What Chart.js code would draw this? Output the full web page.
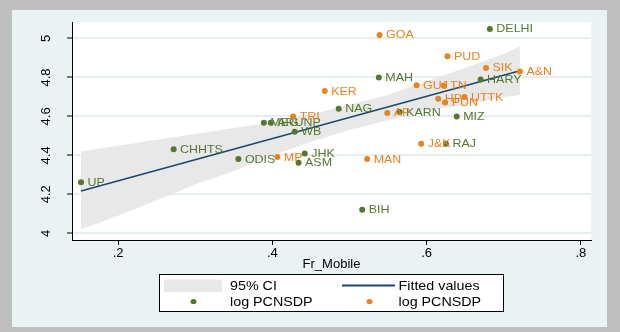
<!DOCTYPE html>
<html>
<head>
<meta charset="utf-8">
<script src="https://cdn.jsdelivr.net/npm/chart.js@4.4.1/dist/chart.umd.min.js"></script>
<style>
  html, body { margin: 0; padding: 0; background: #bfbfbf; }
  #wrap { width: 620px; height: 332px; }
</style>
</head>
<body>
<div id="wrap"><canvas id="chart" width="620" height="332"></canvas></div>
<script>
// green series (log PCNSDP)
const greenNames = ['DELHI', 'MAH', 'HARY', 'NAG', 'KARN', 'MIZ', 'MEG', 'ARUNP', 'WB', 'CHHTS', 'UP', 'ODIS', 'JHK', 'ASM', 'RAJ', 'BIH'];
const greenX = [0.682, 0.538, 0.670, 0.486, 0.565, 0.639, 0.389, 0.398, 0.429, 0.272, 0.152, 0.356, 0.442, 0.434, 0.625, 0.5165];
const greenY = [5.049, 4.800, 4.790, 4.639, 4.622, 4.600, 4.568, 4.568, 4.521, 4.431, 4.262, 4.381, 4.410, 4.362, 4.460, 4.121];

// orange series (log PCNSDP)
const orangeNames = ['GOA', 'PUD', 'SIK', 'A&N', 'GUJ', 'TN', 'HP', 'UTTK', 'PUN', 'KER', 'AP', 'TRI', 'MP', 'J&K', 'MAN'];
const orangeX = [0.539, 0.627, 0.677, 0.721, 0.587, 0.622, 0.615, 0.649, 0.624, 0.468, 0.549, 0.427, 0.4065, 0.593, 0.523];
const orangeY = [5.018, 4.909, 4.849, 4.831, 4.760, 4.759, 4.690, 4.699, 4.672, 4.730, 4.618, 4.600, 4.391, 4.460, 4.381];

// fitted line and 95% CI band
const fitX = [0.152, 0.721];
const fitY = [4.217, 4.834];
const ciX = [0.152, 0.20, 0.25, 0.30, 0.35, 0.40, 0.45, 0.50, 0.55, 0.60, 0.65, 0.70, 0.721];
const ciUpper = [4.42, 4.45, 4.48, 4.51, 4.54, 4.57, 4.61, 4.66, 4.71, 4.78, 4.85, 4.92, 4.96];
const ciLower = [4.02, 4.09, 4.17, 4.25, 4.32, 4.40, 4.47, 4.53, 4.58, 4.63, 4.66, 4.70, 4.71];

const xTicks = [0.2, 0.4, 0.6, 0.8];
const yTicks = [4, 4.2, 4.4, 4.6, 4.8, 5];

const GREEN = '#55772f';
const ORANGE = '#e9831f';
const NAVY = '#1a476f';
const BAND = '#e8e8e8';
const FONT = "'Liberation Sans', Arial, sans-serif";

Chart.defaults.font.family = FONT;

function pairs(xs, ys) {
    return xs.map(function (x, i) { return { x: x, y: ys[i] }; });
}

function stretchText(ctx, text, x, y, sx) {
    ctx.save();
    ctx.translate(x, y);
    ctx.scale(sx, 1);
    ctx.fillText(text, 0, 0);
    ctx.restore();
}

// grey frame, light panel, white plot region
const backgroundPlugin = {
    id: 'stataBackground',
    beforeDraw: function (chart) {
        const ctx = chart.ctx;
        const a = chart.chartArea;
        ctx.save();
        ctx.fillStyle = '#bfbfbf';
        ctx.fillRect(0, 0, chart.width, chart.height);
        ctx.fillStyle = '#eaf2f3';
        ctx.fillRect(12, 10, 595, 317);
        ctx.fillStyle = '#ffffff';
        ctx.fillRect(a.left, a.top, a.right - a.left, a.bottom - a.top);
        ctx.restore();
    }
};

// marker labels next to each point
const pointLabelPlugin = {
    id: 'pointLabels',
    afterDatasetDraw: function (chart, args) {
        const ds = chart.data.datasets[args.index];
        if (!ds.names) {
            return;
        }
        const ctx = chart.ctx;
        ctx.save();
        ctx.font = '11px ' + FONT;
        ctx.fillStyle = ds.labelColor;
        ctx.textBaseline = 'middle';
        args.meta.data.forEach(function (pt, i) {
            stretchText(ctx, ds.names[i], pt.x + 6.5, pt.y + 0.5, 1.13);
        });
        ctx.restore();
    }
};

// boxed two-column legend
const legendPlugin = {
    id: 'boxLegend',
    afterDraw: function (chart) {
        const ctx = chart.ctx;
        ctx.save();
        ctx.fillStyle = '#ffffff';
        ctx.fillRect(159.5, 274.5, 344, 37);
        ctx.strokeStyle = '#000000';
        ctx.lineWidth = 1;
        ctx.strokeRect(159.5, 274.5, 344, 37);

        ctx.fillStyle = BAND;
        ctx.fillRect(164, 279.5, 58, 12.5);

        ctx.strokeStyle = NAVY;
        ctx.lineWidth = 2;
        ctx.beginPath();
        ctx.moveTo(342, 285.5);
        ctx.lineTo(395, 285.5);
        ctx.stroke();

        ctx.fillStyle = GREEN;
        ctx.beginPath();
        ctx.ellipse(193.5, 301.5, 3, 2.6, 0, 0, Math.PI * 2);
        ctx.fill();
        ctx.fillStyle = ORANGE;
        ctx.beginPath();
        ctx.ellipse(369.5, 301.5, 3, 2.6, 0, 0, Math.PI * 2);
        ctx.fill();

        ctx.fillStyle = '#000000';
        ctx.font = '13px ' + FONT;
        ctx.textBaseline = 'middle';
        stretchText(ctx, '95% CI', 230, 286, 1.1);
        stretchText(ctx, 'Fitted values', 398.5, 286, 1.1);
        stretchText(ctx, 'log PCNSDP', 230, 302, 1.1);
        stretchText(ctx, 'log PCNSDP', 398.5, 302, 1.1);
        ctx.restore();
    }
};

new Chart(document.getElementById('chart').getContext('2d'), {
    type: 'line',
    data: {
        datasets: [
            {
                label: 'log PCNSDP',
                data: pairs(orangeX, orangeY),
                names: orangeNames,
                labelColor: ORANGE,
                showLine: false,
                pointRadius: 3,
                pointBorderWidth: 0,
                pointBackgroundColor: ORANGE,
                order: 1
            },
            {
                label: 'log PCNSDP',
                data: pairs(greenX, greenY),
                names: greenNames,
                labelColor: GREEN,
                showLine: false,
                pointRadius: 3,
                pointBorderWidth: 0,
                pointBackgroundColor: GREEN,
                order: 2
            },
            {
                label: 'Fitted values',
                data: pairs(fitX, fitY),
                borderColor: NAVY,
                borderWidth: 1.5,
                pointRadius: 0,
                fill: false,
                order: 3
            },
            {
                label: '95% CI',
                data: pairs(ciX, ciUpper),
                borderColor: 'rgba(0,0,0,0)',
                borderWidth: 0,
                backgroundColor: BAND,
                pointRadius: 0,
                fill: '+1',
                order: 4
            },
            {
                label: '95% CI lower',
                data: pairs(ciX, ciLower),
                borderColor: 'rgba(0,0,0,0)',
                borderWidth: 0,
                pointRadius: 0,
                fill: false,
                order: 5
            }
        ]
    },
    options: {
        responsive: false,
        animation: false,
        layout: {
            padding: { left: 0, right: 29, top: 22.5, bottom: 60 }
        },
        plugins: {
            legend: { display: false },
            tooltip: { enabled: false }
        },
        scales: {
            x: {
                type: 'linear',
                min: 0.1403,
                max: 0.8131,
                afterBuildTicks: function (scale) {
                    scale.ticks = xTicks.map(function (v) { return { value: v }; });
                },
                afterFit: function (scale) {
                    scale.height = 32;
                },
                ticks: {
                    autoSkip: false,
                    maxRotation: 0,
                    padding: 1,
                    color: '#000',
                    font: { size: 13 },
                    callback: function (v) { return String(v).replace(/^0\./, '.'); }
                },
                grid: {
                    drawOnChartArea: false,
                    drawTicks: true,
                    tickLength: 5,
                    tickColor: '#000',
                    tickWidth: 1
                },
                border: { color: '#000', width: 1 },
                title: {
                    display: true,
                    text: 'Fr_Mobile',
                    color: '#000',
                    font: { size: 13 },
                    padding: 0
                }
            },
            y: {
                type: 'linear',
                min: 3.9656,
                max: 5.082,
                afterBuildTicks: function (scale) {
                    scale.ticks = yTicks.map(function (v) { return { value: v }; });
                },
                afterFit: function (scale) {
                    scale.width = 72;
                },
                ticks: {
                    autoSkip: false,
                    minRotation: 90,
                    maxRotation: 90,
                    crossAlign: 'center',
                    padding: 12,
                    color: '#000',
                    font: { size: 13 },
                    callback: function (v) { return String(v); }
                },
                grid: {
                    color: '#e6eef0',
                    lineWidth: 2,
                    drawTicks: true,
                    tickLength: 5,
                    tickColor: '#000',
                    tickWidth: 1
                },
                border: { color: '#000', width: 1 }
            }
        }
    },
    plugins: [backgroundPlugin, pointLabelPlugin, legendPlugin]
});
</script>
</body>
</html>
